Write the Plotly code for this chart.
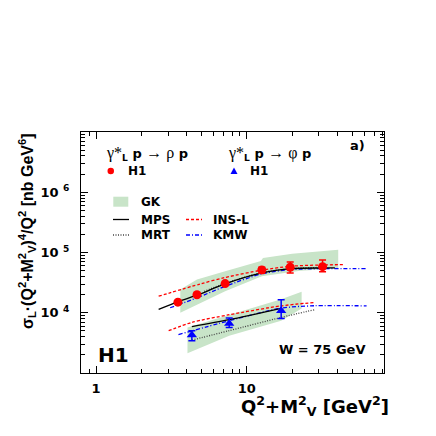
import plotly.graph_objects as go

# ---------------- data ----------------
# rho: H1 data
rho_x = [3.49, 4.67, 7.18, 12.57, 19.4, 31.8]
rho_y = [14970, 19860, 30500, 51400, 56800, 58200]
rho_hi = [15700, 20800, 31900, 56800, 69700, 75200]
rho_lo = [14300, 19000, 29200, 45200, 45800, 47700]

# phi: H1 data
phi_x = [4.32, 7.64, 16.9]
phi_y = [4270, 6650, 10800]
phi_hi = [5040, 8150, 16400]
phi_lo = [3440, 5710, 8060]

# rho model curves
rho_mps_x = [2.60, 3.5, 4.67, 7.18, 12.57, 19.4, 32.2, 38.4]
rho_mps_y = [11340, 15300, 19540, 30150, 45800, 53900, 55400, 55400]
rho_mrt_x = [5.2, 7.18, 12.6, 20.0, 30.0]
rho_mrt_y = [22600, 30800, 46500, 54000, 56500]
rho_insl_x = [2.60, 4.9, 7.2, 12.6, 19.4, 30.0, 44.8]
rho_insl_y = [18800, 30000, 38500, 51000, 59000, 62000, 62800]
rho_kmw_x = [3.10, 4.67, 7.18, 12.57, 19.4, 32.2, 62.3]
rho_kmw_y = [12100, 17700, 27500, 44200, 52000, 54000, 54000]
rho_gk_x = [3.62, 4.67, 7.18, 12.4, 12.8, 20.0, 40.4]
rho_gk_hi = [24300, 35500, 48700, 72000, 81000, 95000, 111000]
rho_gk_lo_x = [3.62, 4.67, 7.18, 12.6, 22.6, 40.4]
rho_gk_lo = [10000, 13500, 22800, 40300, 50000, 54000]

# phi model curves
phi_mps_x = [4.32, 7.64, 16.9]
phi_mps_y = [5880, 7660, 11800]
phi_mrt_x = [4.32, 7.64, 16.9, 28.0]
phi_mrt_y = [3520, 5040, 8360, 11200]
phi_insl_x = [3.03, 4.32, 7.64, 16.9, 28.0]
phi_insl_y = [5040, 6920, 9270, 13000, 14800]
phi_kmw_x = [3.52, 7.64, 16.9, 28.0, 62.3]
phi_kmw_y = [4330, 7380, 11900, 13060, 13000]
phi_gk_x = [4.04, 7.64, 16.9, 23.1]
phi_gk_hi = [5710, 9270, 16800, 22300]
phi_gk_lo = [2120, 4170, 7380, 11800]

# axis ticks
x_ticks = [1, 10]
x_ticktext = ["1", "10"]
x_minor = [0.9, 2, 3, 4, 5, 6, 7, 8, 9, 20, 30, 40, 50, 60, 70, 80]
y_ticks = [1e4, 1e5, 1e6]
y_ticktext = ["10 <sup>4</sup>", "10 <sup>5</sup>", "10 <sup>6</sup>"]
y_minor = [m * 10 ** e for e in range(3, 7) for m in range(2, 10)]

# ---------------- style ----------------
FONT = "DejaVu Sans"
GREEN = "rgba(200,228,200,1)"
RED = "#ff0000"
BLUE = "#0000ff"
GRAY = "#444444"

fig = go.Figure()

# GK bands
fig.add_trace(go.Scatter(x=rho_gk_x + rho_gk_lo_x[::-1], y=rho_gk_hi + rho_gk_lo[::-1],
                         fill="toself", fillcolor=GREEN, line=dict(width=0),
                         mode="lines", hoverinfo="skip", showlegend=False))
fig.add_trace(go.Scatter(x=phi_gk_x + phi_gk_x[::-1], y=phi_gk_hi + phi_gk_lo[::-1],
                         fill="toself", fillcolor=GREEN, line=dict(width=0),
                         mode="lines", hoverinfo="skip", showlegend=False))

def curve(x, y, color, dash, width=1.3):
    fig.add_trace(go.Scatter(x=x, y=y, mode="lines",
                             line=dict(color=color, dash=dash, width=width, shape="spline", smoothing=0.8),
                             showlegend=False))

curve(rho_insl_x, rho_insl_y, RED, "3px,2px")
curve(rho_kmw_x, rho_kmw_y, BLUE, "4px,2px,1px,2px")
curve(rho_mrt_x, rho_mrt_y, GRAY, "1px,1.5px")
curve(rho_mps_x, rho_mps_y, "black", "solid")
curve(phi_insl_x, phi_insl_y, RED, "3px,2px")
curve(phi_kmw_x, phi_kmw_y, BLUE, "4px,2px,1px,2px")
curve(phi_mrt_x, phi_mrt_y, GRAY, "1px,1.5px")
curve(phi_mps_x, phi_mps_y, "black", "solid")

fig.add_trace(go.Scatter(
    x=rho_x, y=rho_y, mode="markers",
    marker=dict(symbol="circle", size=9, color=RED),
    error_y=dict(type="data", symmetric=False,
                 array=[h - v for h, v in zip(rho_hi, rho_y)],
                 arrayminus=[v - l for v, l in zip(rho_y, rho_lo)],
                 color=RED, thickness=1.5, width=3.5),
    showlegend=False))
fig.add_trace(go.Scatter(
    x=phi_x, y=phi_y, mode="markers",
    marker=dict(symbol="triangle-up", size=9, color=BLUE),
    error_y=dict(type="data", symmetric=False,
                 array=[h - v for h, v in zip(phi_hi, phi_y)],
                 arrayminus=[v - l for v, l in zip(phi_y, phi_lo)],
                 color=BLUE, thickness=1.5, width=3.5),
    showlegend=False))

# ---------------- layout ----------------
# the page body has an 8px margin, so the figure is 428x428 and shifted by 8px
OFF = 8
W = H = 428
L, T = 81 - OFF, 132 - OFF
PW, PH = 303, 241
R, B = W - L - PW, H - T - PH

def px(x):
    return (x - OFF - L) / PW

def py(y):
    return (T + PH - (y - OFF)) / PH

ann = []
def text(x, y, s, size, xanchor="left", yanchor="middle", weight="bold", angle=0, family=FONT):
    ann.append(dict(x=px(x), y=py(y), xref="paper", yref="paper", text=s, showarrow=False,
                    xanchor=xanchor, yanchor=yanchor, textangle=angle,
                    font=dict(family=family, size=size, color="black", weight=weight)))

SER = "<span style=\"font-family:'Liberation Serif';font-weight:normal;font-size:16px\">"
text(104, 153, SER + "γ*</span><sub>L</sub> p " + SER + "→ ρ</span> p", 13)
text(226, 153, SER + "γ*</span><sub>L</sub> p " + SER + "→ φ</span> p", 13)
text(125.5, 171, "H1", 12)
text(247.5, 171, "H1", 12)
text(139, 202, "GK", 12)
text(139, 219.5, "MPS", 12)
text(139, 235, "MRT", 12)
text(211, 219.5, "INS-L", 12)
text(211, 235, "KMW", 12)
text(367, 145, "a)", 13, xanchor="right")
text(96, 355, "H1", 20)
text(367, 349.5, "W = 75 GeV", 13, xanchor="right")
text(391, 406, "Q<sup>2</sup>+M<sup>2</sup><sub>V</sub> [GeV<sup>2</sup>]", 18, xanchor="right")
text(27, 131, "σ<sub>L</sub>·(Q<sup>2</sup>+M<sup>2</sup><sub>V</sub>)<sup>4</sup>/Q<sup>2</sup> [nb GeV<sup>6</sup>]",
     16, xanchor="center", yanchor="top", angle=-90, family="Liberation Sans")

shapes = []
def line(x0, x1, y, color, dash):
    shapes.append(dict(type="line", xref="paper", yref="paper", x0=px(x0), x1=px(x1), y0=py(y), y1=py(y),
                       line=dict(color=color, width=1.3, dash=dash)))

shapes.append(dict(type="rect", xref="paper", yref="paper", x0=px(113.3), x1=px(128.3),
                   y0=py(206.7), y1=py(196.7), fillcolor=GREEN, line=dict(width=0)))
line(113, 129, 219.5, "black", "solid")
line(113, 129, 235, GRAY, "1px,1.5px")
line(186, 202, 219.5, RED, "3px,2px")
line(186, 202, 235, BLUE, "4px,2px,1px,2px")
shapes.append(dict(type="circle", xref="paper", yref="paper", x0=px(107.5), x1=px(114),
                   y0=py(174.2), y1=py(167.8), fillcolor=RED, line=dict(width=0)))
shapes.append(dict(type="path", xref="paper", yref="paper",
                   path=f"M {px(230.5)} {py(174)} L {px(237.5)} {py(174)} L {px(234)} {py(167.5)} Z",
                   fillcolor=BLUE, line=dict(width=0)))

axis_common = dict(type="log", showline=True, linecolor="black", linewidth=1, mirror="allticks",
                   ticks="inside", ticklen=7, tickwidth=1, tickcolor="black",
                   showgrid=False, zeroline=False,
                   tickfont=dict(family=FONT, size=13, color="black", weight="bold"))

fig.update_layout(
    width=W, height=H, margin=dict(l=L, r=R, t=T, b=B),
    paper_bgcolor="white", plot_bgcolor="white",
    showlegend=False,
    xaxis=dict(range=[-0.1, 1.91], tickmode="array", tickvals=x_ticks, ticktext=x_ticktext,
               minor=dict(tickmode="array", tickvals=x_minor, ticks="inside", ticklen=4,
                          tickcolor="black", showgrid=False),
               ticklabelstandoff=3, **axis_common),
    yaxis=dict(range=[3, 7], tickmode="array", tickvals=y_ticks, ticktext=y_ticktext,
               minor=dict(tickmode="array", tickvals=y_minor, ticks="inside", ticklen=4,
                          tickcolor="black", showgrid=False),
               ticklabelstandoff=8, **axis_common),
    annotations=ann, shapes=shapes,
)

fig.write_html("out.html")
